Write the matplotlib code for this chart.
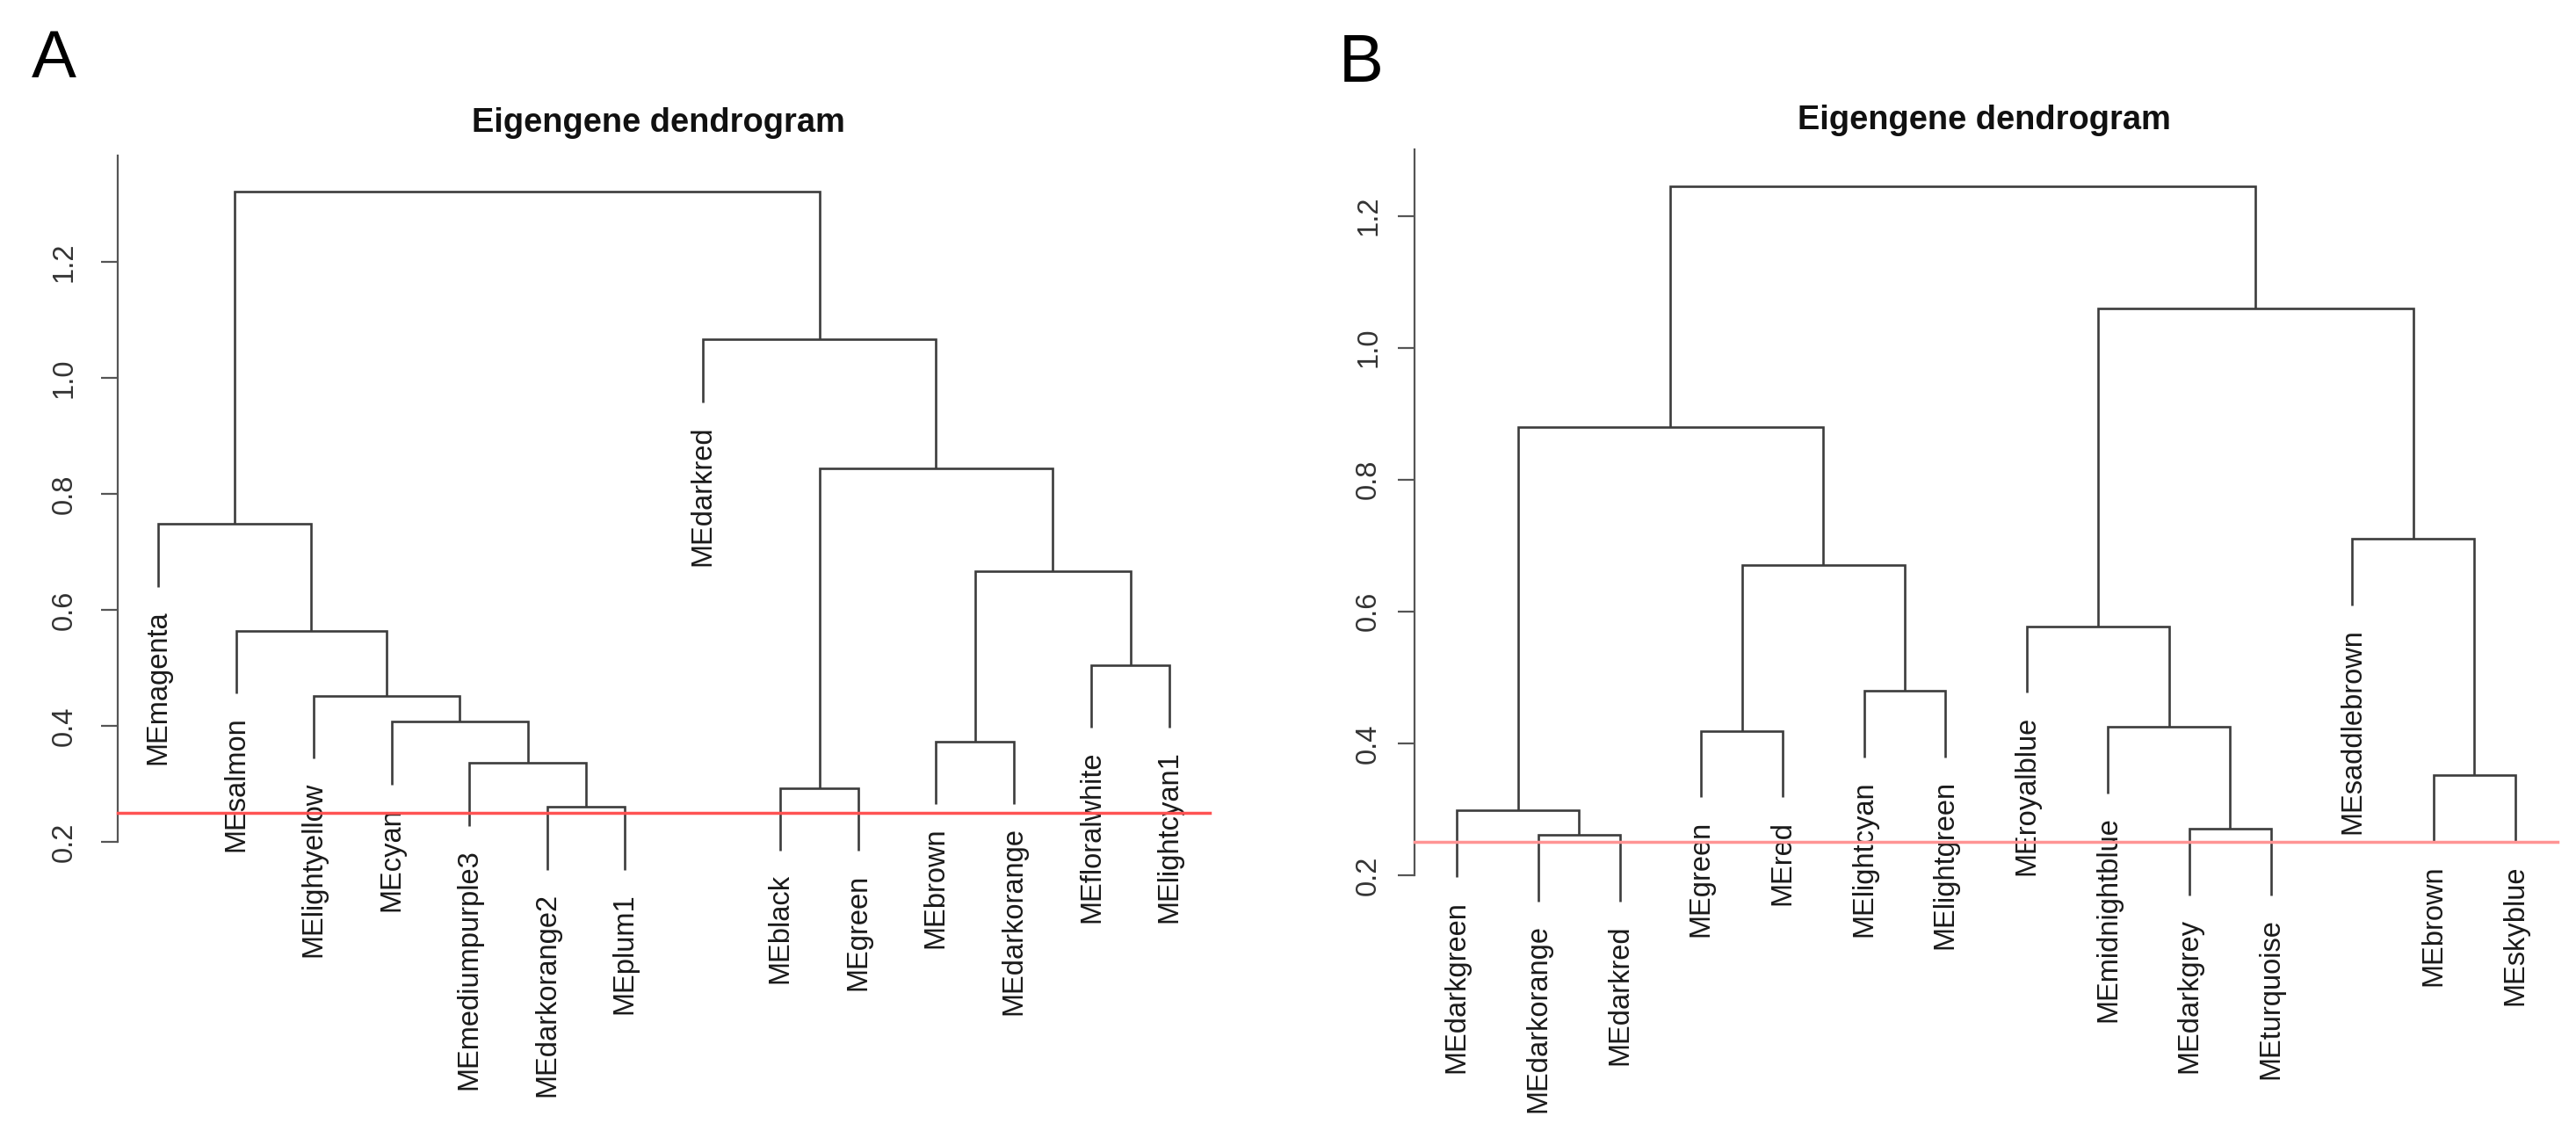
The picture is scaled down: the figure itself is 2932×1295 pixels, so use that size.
# Eigengene dendrograms (panel A / panel B), R hclust style
import matplotlib.pyplot as plt

plt.rcParams['font.family'] = ['Liberation Sans', 'DejaVu Sans']

# ---- panel A data ----
labels_a = ['MEmagenta', 'MEsalmon', 'MElightyellow', 'MEcyan', 'MEmediumpurple3',
            'MEdarkorange2', 'MEplum1', 'MEdarkred', 'MEblack', 'MEgreen',
            'MEbrown', 'MEdarkorange', 'MEfloralwhite', 'MElightcyan1']
# merge table like R hclust$merge: negative = leaf number, positive = earlier merge
left_a = [-6, -9, -5, -11, -4, -3, -13, -2, 4, -1, 2, -8, 10]
right_a = [-7, -10, 1, -12, 3, 5, -14, 6, 7, 8, 9, 11, 12]
heights_a = [0.260, 0.293, 0.336, 0.373, 0.407, 0.452, 0.505, 0.564,
             0.666, 0.748, 0.844, 1.066, 1.322]
hang_a = 0.108

# ---- panel B data ----
labels_b = ['MEdarkgreen', 'MEdarkorange', 'MEdarkred', 'MEgreen', 'MEred',
            'MElightcyan', 'MElightgreen', 'MEroyalblue', 'MEmidnightblue',
            'MEdarkgrey', 'MEturquoise', 'MEsaddlebrown', 'MEbrown', 'MEskyblue']
left_b = [-2, -10, -1, -13, -4, -9, -6, -8, 5, -12, 3, 8, 11]
right_b = [-3, -11, 1, -14, -5, 2, -7, 6, 7, 4, 9, 10, 12]
heights_b = [0.261, 0.271, 0.298, 0.352, 0.419, 0.425, 0.480, 0.5775,
             0.670, 0.710, 0.879, 1.060, 1.244]
hang_b = 0.101

cut_height = 0.25
yticks = [0.2, 0.4, 0.6, 0.8, 1.0, 1.2]

W, H = 2932, 1295
fig = plt.figure(figsize=(W / 100, H / 100), dpi=100)
fig.patch.set_facecolor('white')


def draw_dendro(ax, labels, left, right, heights, hang, red, pad):
    pos = {}
    for i, (a, b, h) in enumerate(zip(left, right, heights), start=1):
        xs, ys = [], []
        for c in (a, b):
            if c < 0:
                x = -c
                y0 = h - hang
                ax.annotate(labels[x - 1], (x, y0), xytext=(0, -19),
                            textcoords='offset points', rotation=90,
                            ha='center', va='top', fontsize=23.5,
                            color='#1a1a1a', annotation_clip=False)
            else:
                x, y0 = pos[c]
            xs.append(x)
            ys.append(y0)
        ax.plot([xs[0], xs[0], xs[1], xs[1]], [ys[0], h, h, ys[1]],
                color='#3c3c3c', lw=1.9, clip_on=False,
                solid_joinstyle='miter', solid_capstyle='butt')
        pos[i] = ((xs[0] + xs[1]) / 2, h)

    ax.axhline(cut_height, color=red, lw=2.5, zorder=3, clip_on=False)

    n = len(labels)
    ax.set_xlim(1 - 0.04 * (n - 1), n + 0.04 * (n - 1))
    ax.set_xticks([])
    for s in ['top', 'right', 'bottom']:
        ax.spines[s].set_visible(False)
    ax.spines['left'].set_color('#555555')
    ax.spines['left'].set_linewidth(1.6)
    ax.set_yticks(yticks)
    ax.set_yticklabels(['%.1f' % t for t in yticks], rotation=90,
                       va='center', ha='center')
    ax.tick_params(axis='y', length=13.7, width=1.6, color='#555555',
                   labelsize=23.5, labelcolor='#333333', pad=pad)
    ax.patch.set_alpha(0)


# panel A axes
ax_a = fig.add_axes([134 / W, 1 - 958 / H, (1377 - 134) / W, (958 - 176.6) / H])
ax_a.set_ylim(0.2, 1.384)
draw_dendro(ax_a, labels_a, left_a, right_a, heights_a, hang_a, '#ff5252', 30)

# panel B axes
ax_b = fig.add_axes([1610 / W, 1 - 996 / H, (2911 - 1610) / W, (996 - 169.7) / H])
ax_b.set_ylim(0.2, 1.301)
draw_dendro(ax_b, labels_b, left_b, right_b, heights_b, hang_b, '#ff9494', 24)

# titles and panel letters
fig.text(749 / W, 1 - 150 / H, 'Eigengene dendrogram', ha='center', va='baseline',
         fontsize=27.4, fontweight='bold', color='#111111')
fig.text(2258 / W, 1 - 147 / H, 'Eigengene dendrogram', ha='center', va='baseline',
         fontsize=27.4, fontweight='bold', color='#111111')
fig.text(36 / W, 1 - 88 / H, 'A', ha='left', va='baseline', fontsize=55, color='black')
fig.text(1524 / W, 1 - 93 / H, 'B', ha='left', va='baseline', fontsize=55, color='black')

fig.savefig('out.png', dpi=100, facecolor='white')
